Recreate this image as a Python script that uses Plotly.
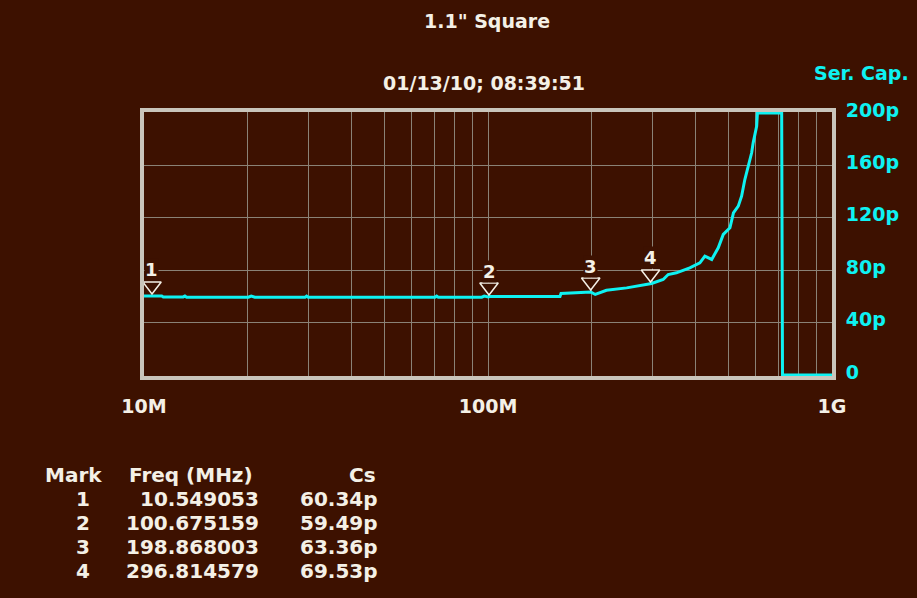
import numpy as np
import plotly.graph_objects as go

# ---------------- data ----------------
freq_mhz = [10.0, 11.26, 11.38, 13.0, 13.15, 13.3, 20.1, 20.5, 21.0, 29.4, 29.7, 30.0,
            70.1, 70.9, 71.7, 95.9, 97.5, 100.2, 101.5, 104.8, 161.9, 163.0, 198.9, 205.0,
            212.0, 221.0, 253.0, 270.0, 299.0, 323.0, 334.0, 353.0, 386.0, 413.0, 427.0,
            447.0, 467.0, 483.0, 505.0, 517.0, 534.0, 546.0, 558.0, 571.0, 584.0, 590.0,
            604.0, 607.0, 714.0, 718.0, 1000.0]
cap_pf = [60.4, 60.4, 59.6, 59.6, 60.3, 59.4, 59.4, 60.3, 59.4, 59.4, 60.2, 59.4,
          59.4, 60.2, 59.4, 59.4, 60.2, 59.5, 60.0, 60.0, 60.0, 62.2, 63.4, 61.5,
          63.0, 64.7, 66.5, 67.8, 69.9, 72.9, 76.7, 78.0, 81.8, 85.6, 90.7,
          88.2, 97.1, 107.3, 112.4, 123.8, 128.9, 136.5, 149.2, 159.4, 169.6, 177.2,
          190.0, 200.0, 200.0, 0.0, 0.0]

marker_ids = ["1", "2", "3", "4"]
marker_freq_mhz = [10.549053, 100.675159, 198.868003, 296.814579]
marker_cs_pf = [60.34, 59.49, 63.36, 69.53]

x_tick_mhz = [10, 20, 30, 40, 50, 60, 70, 80, 90,
              100, 200, 300, 400, 500, 600, 700, 800, 900, 1000]
x_tick_text = ["10M", "", "", "", "", "", "", "", "",
               "100M", "", "", "", "", "", "", "", "", "1G"]
y_tick_vals = [0, 40, 80, 120, 160, 200]
y_tick_text = ["0", "40p", "80p", "120p", "160p", "200p"]

title_text = '1.1" Square'
date_text = "01/13/10; 08:39:51"
trace_label = "Ser. Cap."
table_headers = ["Mark", "Freq (MHz)", "Cs"]

# ---------------- style ----------------
BG = "#3d1100"
GRID = "#8a8276"
FRAME = "#c9c5bb"
CYAN = "#0ef2f2"
TXT = "#f4f0e6"
FONT = "DejaVu Sans"

W, H = 917, 598
L, R, T, B = 144, 85, 112, 222
PW, PH = W - L - R, H - T - B


def px_x(px):
    return (px - L) / PW


def px_y(py):
    return (H - B - py) / PH


fig = go.Figure()

fig.add_trace(go.Scatter(
    x=[f * 1e6 for f in freq_mhz], y=cap_pf, mode="lines",
    line=dict(color=CYAN, width=3), hoverinfo="skip", showlegend=False))

fig.add_trace(go.Scatter(
    x=[f * 1e6 for f in marker_freq_mhz], y=marker_cs_pf, mode="markers",
    marker=dict(symbol="triangle-up", angle=180, standoff=10, size=16,
                color=BG, line=dict(color=TXT, width=1.5)),
    hoverinfo="skip", showlegend=False))

annotations = []
bold = dict(family=FONT, weight="bold")
for mid, f, c in zip(marker_ids, marker_freq_mhz, marker_cs_pf):
    annotations.append(dict(
        x=np.log10(f * 1e6), y=c, xref="x", yref="y", text=mid, showarrow=False,
        xanchor="center", yanchor="middle", yshift=26, bgcolor=BG, borderpad=0,
        font=dict(size=18, color=TXT, **bold)))

annotations.append(dict(x=px_x(487), y=px_y(21), xref="paper", yref="paper",
                        text=title_text, showarrow=False, xanchor="center", yanchor="middle",
                        font=dict(size=19, color=TXT, **bold)))
annotations.append(dict(x=px_x(483.5), y=px_y(83), xref="paper", yref="paper",
                        text=date_text, showarrow=False, xanchor="center", yanchor="middle",
                        font=dict(size=19, color=TXT, **bold)))
annotations.append(dict(x=px_x(861.5), y=px_y(73), xref="paper", yref="paper",
                        text=trace_label, showarrow=False, xanchor="center", yanchor="middle",
                        font=dict(size=19, color=CYAN, **bold)))

# table below the chart
row_y = [475, 499, 523, 547, 571]
tfont = dict(size=20, color=TXT, **bold)
annotations.append(dict(x=px_x(43), y=px_y(row_y[0]), xref="paper", yref="paper",
                        text=table_headers[0], showarrow=False, xanchor="left",
                        yanchor="middle", font=tfont))
annotations.append(dict(x=px_x(127), y=px_y(row_y[0]), xref="paper", yref="paper",
                        text=table_headers[1], showarrow=False, xanchor="left",
                        yanchor="middle", font=tfont))
annotations.append(dict(x=px_x(378), y=px_y(row_y[0]), xref="paper", yref="paper",
                        text=table_headers[2], showarrow=False, xanchor="right",
                        yanchor="middle", font=tfont))
for i, (mid, f, c) in enumerate(zip(marker_ids, marker_freq_mhz, marker_cs_pf)):
    yy = px_y(row_y[i + 1])
    annotations.append(dict(x=px_x(83), y=yy, xref="paper", yref="paper", text=mid,
                            showarrow=False, xanchor="center", yanchor="middle", font=tfont))
    annotations.append(dict(x=px_x(261), y=yy, xref="paper", yref="paper",
                            text=f"{f:.6f}", showarrow=False, xanchor="right",
                            yanchor="middle", font=tfont))
    annotations.append(dict(x=px_x(380), y=yy, xref="paper", yref="paper",
                            text=f"{c:.2f}p", showarrow=False, xanchor="right",
                            yanchor="middle", font=tfont))

fig.update_layout(
    width=W, height=H,
    margin=dict(l=L, r=R, t=T, b=B, pad=0),
    paper_bgcolor=BG, plot_bgcolor=BG,
    showlegend=False,
    annotations=annotations,
    xaxis=dict(type="log", range=[7, 9],
               tickvals=[v * 1e6 for v in x_tick_mhz], ticktext=x_tick_text,
               showgrid=True, gridcolor=GRID, gridwidth=1, zeroline=False,
               showline=True, linecolor=FRAME, linewidth=4, mirror=True,
               ticks="", ticklabelstandoff=10,
               tickfont=dict(size=19, color=TXT, **bold)),
    yaxis=dict(range=[-0.76, 200.76], side="right",
               tickvals=y_tick_vals, ticktext=y_tick_text,
               showgrid=True, gridcolor=GRID, gridwidth=1, zeroline=False,
               showline=True, linecolor=FRAME, linewidth=4, mirror=True,
               ticks="", ticklabelstandoff=6, ticklabelshift=-3,
               tickfont=dict(size=19, color=CYAN, **bold)),
)

fig.write_html("out.html",
               config={"displayModeBar": False},
               post_script="document.body.style.margin='0';"
                           "document.body.style.background='" + BG + "';")
